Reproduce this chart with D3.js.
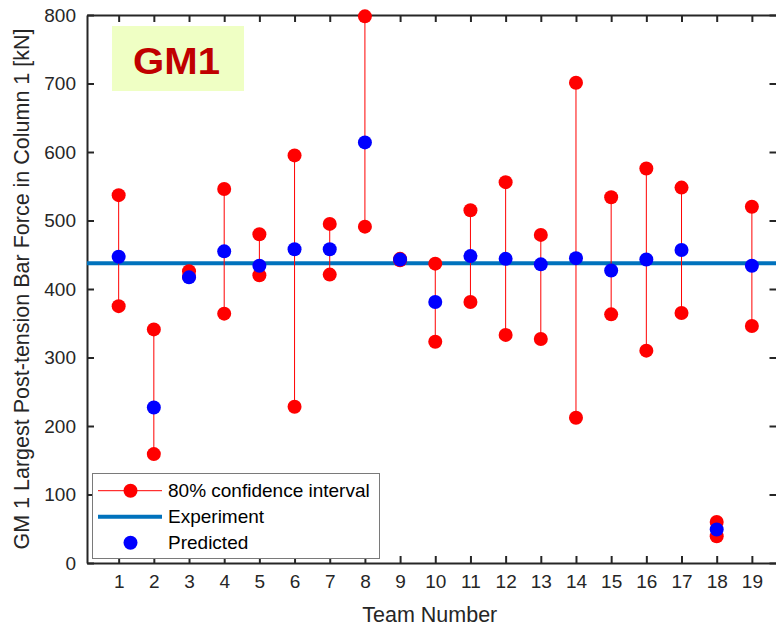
<!DOCTYPE html>
<html>
<head>
<meta charset="utf-8">
<script src="https://cdn.jsdelivr.net/npm/d3@7"></script>
<style>
  html, body { margin: 0; padding: 0; background: #fff; }
  svg { display: block; }
  text { font-family: "Liberation Sans", Arial, sans-serif; fill: #262626; }
</style>
</head>
<body>
<svg id="chart" width="776" height="631"></svg>
<script>
// Team numbers
const teams = [1, 2, 3, 4, 5, 6, 7, 8, 9, 10, 11, 12, 13, 14, 15, 16, 17, 18, 19];
// Upper and lower bounds of the 80% confidence interval [kN]
const ciUpper = [537, 341, 426, 546, 480, 595, 495, 798, 444, 437, 515, 556, 479, 701, 534, 576, 548, 60, 520];
const ciLower = [375, 159, 418, 364, 420, 228, 421, 491, 442, 323, 381, 333, 327, 212, 363, 310, 365, 39, 346];
// Predicted force per team [kN]
const predicted = [447, 227, 417, 455, 434, 458, 458, 614, 443, 381, 448, 444, 436, 445, 427, 443, 457, 49, 434];
// Measured (experiment) force [kN]
const experiment = 437.5;

const yTicks = [0, 100, 200, 300, 400, 500, 600, 700, 800];

const svg = d3.select("#chart");
const plotLeft = 87, plotRight = 776.5, plotTop = 15, plotBottom = 563;

const x = d3.scaleLinear().domain([0.1, 19.7]).range([plotLeft, plotRight]);
const y = d3.scaleLinear().domain([0, 800]).range([plotBottom, plotTop]);

// Axes (ticks point inward, box style)
const axisColor = "#262626";
const gx = svg.append("g").attr("transform", `translate(0,${plotBottom})`)
  .call(d3.axisBottom(x).tickValues(teams).tickFormat(d3.format("d")).tickSizeInner(-7).tickSizeOuter(0).tickPadding(12));
const gxTop = svg.append("g").attr("transform", `translate(0,${plotTop})`)
  .call(d3.axisTop(x).tickValues(teams).tickFormat("").tickSizeInner(-7).tickSizeOuter(0));
const gy = svg.append("g").attr("transform", `translate(${plotLeft},0)`)
  .call(d3.axisLeft(y).tickValues(yTicks).tickFormat(d3.format("d")).tickSizeInner(-7).tickSizeOuter(0).tickPadding(11));
const gyRight = svg.append("g").attr("transform", `translate(${plotRight},0)`)
  .call(d3.axisRight(y).tickValues(yTicks).tickFormat("").tickSizeInner(-7).tickSizeOuter(0));

[gx, gxTop, gy, gyRight].forEach(g => {
  g.select(".domain").attr("stroke", axisColor).attr("stroke-width", 2);
  g.selectAll(".tick line").attr("stroke", axisColor).attr("stroke-width", 2);
  g.selectAll(".tick text").attr("font-size", 19).attr("fill", "#262626")
    .attr("font-family", "'Liberation Sans', Arial, sans-serif");
});
gx.selectAll(".tick text").attr("dy", "0.71em");

// Axis labels
svg.append("text")
  .attr("x", (plotLeft + plotRight) / 2 - 2).attr("y", 622)
  .attr("text-anchor", "middle").attr("font-size", 21.5)
  .text("Team Number");
svg.append("text")
  .attr("transform", `translate(29,${(plotTop + plotBottom) / 2}) rotate(-90)`)
  .attr("text-anchor", "middle").attr("font-size", 21.5)
  .text("GM 1 Largest Post-tension Bar Force in Column 1 [kN]");

const plot = svg.append("g");

// Experiment reference line
plot.append("line")
  .attr("x1", plotLeft).attr("x2", plotRight)
  .attr("y1", y(experiment)).attr("y2", y(experiment))
  .attr("stroke", "#0072BD").attr("stroke-width", 4);

// Confidence interval whiskers and end markers
teams.forEach((t, i) => {
  plot.append("line")
    .attr("x1", x(t)).attr("x2", x(t))
    .attr("y1", y(ciLower[i])).attr("y2", y(ciUpper[i]))
    .attr("stroke", "#ff0000").attr("stroke-width", 1);
});
teams.forEach((t, i) => {
  [ciLower[i], ciUpper[i]].forEach(v => {
    plot.append("circle").attr("cx", x(t)).attr("cy", y(v)).attr("r", 7).attr("fill", "#ff0000");
  });
});

// Predicted values
plot.selectAll(".pred").data(teams).join("circle")
  .attr("class", "pred")
  .attr("cx", d => x(d)).attr("cy", (d, i) => y(predicted[i]))
  .attr("r", 7).attr("fill", "#0000ff");

// Ground-motion tag
svg.append("rect").attr("x", 112).attr("y", 26).attr("width", 132).attr("height", 65)
  .attr("fill", "#efffc4");
svg.append("text").attr("x", 133).attr("y", 73.5)
  .attr("font-family", "'DejaVu Sans', Verdana, sans-serif")
  .attr("font-weight", "bold").attr("font-size", 37)
  .attr("textLength", 87).attr("lengthAdjust", "spacingAndGlyphs")
  .style("fill", "#c00000")
  .text("GM1");

// Legend
const lg = svg.append("g");
lg.append("rect").attr("x", 92.5).attr("y", 473.5).attr("width", 287).attr("height", 85)
  .attr("fill", "#fff").attr("stroke", "#7a7a7a").attr("stroke-width", 1);
const rows = [490.7, 516.7, 542.7];
lg.append("line").attr("x1", 98).attr("x2", 162).attr("y1", rows[0]).attr("y2", rows[0])
  .attr("stroke", "#ff0000").attr("stroke-width", 1);
lg.append("circle").attr("cx", 130.5).attr("cy", rows[0]).attr("r", 7).attr("fill", "#ff0000");
lg.append("line").attr("x1", 98).attr("x2", 162).attr("y1", rows[1]).attr("y2", rows[1])
  .attr("stroke", "#0072BD").attr("stroke-width", 4);
lg.append("circle").attr("cx", 130.5).attr("cy", rows[2]).attr("r", 7).attr("fill", "#0000ff");
const labels = ["80% confidence interval", "Experiment", "Predicted"];
labels.forEach((s, i) => {
  lg.append("text").attr("x", 168).attr("y", rows[i] + 6.5)
    .attr("font-size", 19).style("fill", "#000").text(s);
});
</script>
</body>
</html>
